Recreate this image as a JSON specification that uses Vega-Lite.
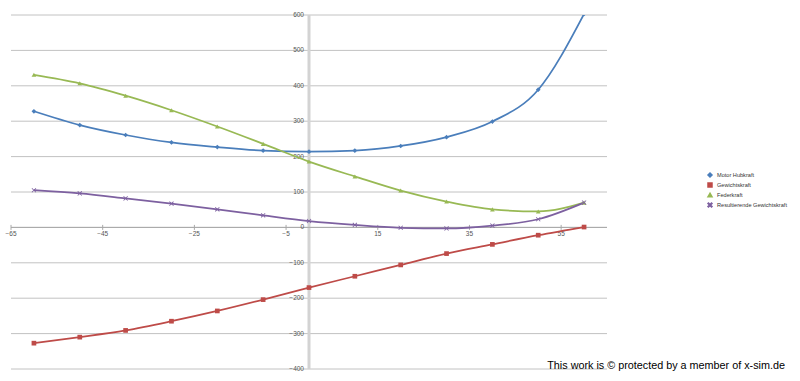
{
  "$schema": "https://vega.github.io/schema/vega-lite/v6.json",
  "width": 596,
  "height": 354,
  "autosize": {"type": "none"},
  "padding": {"left": 11, "top": 15, "right": 193, "bottom": 12},
  "background": "white",
  "config": {"view": {"stroke": null}, "font": "Liberation Sans"},
  "title": {
    "text": "This work is © protected by a member of x-sim.de",
    "orient": "bottom",
    "anchor": "end",
    "frame": "group",
    "fontSize": 10.8,
    "fontWeight": "normal",
    "color": "black",
    "dx": 178,
    "dy": -13,
    "offset": 0
  },
  "datasets": {
    "series": [
      {"x": -60, "series": "Motor Hubkraft", "value": 328},
      {"x": -50, "series": "Motor Hubkraft", "value": 289},
      {"x": -40, "series": "Motor Hubkraft", "value": 261},
      {"x": -30, "series": "Motor Hubkraft", "value": 240},
      {"x": -20, "series": "Motor Hubkraft", "value": 227},
      {"x": -10, "series": "Motor Hubkraft", "value": 217},
      {"x": 0, "series": "Motor Hubkraft", "value": 214},
      {"x": 10, "series": "Motor Hubkraft", "value": 217},
      {"x": 20, "series": "Motor Hubkraft", "value": 230},
      {"x": 30, "series": "Motor Hubkraft", "value": 255},
      {"x": 40, "series": "Motor Hubkraft", "value": 299},
      {"x": 50, "series": "Motor Hubkraft", "value": 389},
      {"x": 60, "series": "Motor Hubkraft", "value": 603},
      {"x": -60, "series": "Gewichtskraft", "value": -327},
      {"x": -50, "series": "Gewichtskraft", "value": -310},
      {"x": -40, "series": "Gewichtskraft", "value": -291},
      {"x": -30, "series": "Gewichtskraft", "value": -265},
      {"x": -20, "series": "Gewichtskraft", "value": -236},
      {"x": -10, "series": "Gewichtskraft", "value": -204},
      {"x": 0, "series": "Gewichtskraft", "value": -170},
      {"x": 10, "series": "Gewichtskraft", "value": -138},
      {"x": 20, "series": "Gewichtskraft", "value": -106},
      {"x": 30, "series": "Gewichtskraft", "value": -74},
      {"x": 40, "series": "Gewichtskraft", "value": -48},
      {"x": 50, "series": "Gewichtskraft", "value": -22},
      {"x": 60, "series": "Gewichtskraft", "value": 1},
      {"x": -60, "series": "Federkraft", "value": 431},
      {"x": -50, "series": "Federkraft", "value": 407},
      {"x": -40, "series": "Federkraft", "value": 372},
      {"x": -30, "series": "Federkraft", "value": 331},
      {"x": -20, "series": "Federkraft", "value": 285},
      {"x": -10, "series": "Federkraft", "value": 236},
      {"x": 0, "series": "Federkraft", "value": 186},
      {"x": 10, "series": "Federkraft", "value": 144},
      {"x": 20, "series": "Federkraft", "value": 104},
      {"x": 30, "series": "Federkraft", "value": 73},
      {"x": 40, "series": "Federkraft", "value": 51},
      {"x": 50, "series": "Federkraft", "value": 45},
      {"x": 60, "series": "Federkraft", "value": 70},
      {"x": -60, "series": "Resultierende Gewichtskraft", "value": 105},
      {"x": -50, "series": "Resultierende Gewichtskraft", "value": 96},
      {"x": -40, "series": "Resultierende Gewichtskraft", "value": 82},
      {"x": -30, "series": "Resultierende Gewichtskraft", "value": 67},
      {"x": -20, "series": "Resultierende Gewichtskraft", "value": 51},
      {"x": -10, "series": "Resultierende Gewichtskraft", "value": 34},
      {"x": 0, "series": "Resultierende Gewichtskraft", "value": 18},
      {"x": 10, "series": "Resultierende Gewichtskraft", "value": 7},
      {"x": 20, "series": "Resultierende Gewichtskraft", "value": -1},
      {"x": 30, "series": "Resultierende Gewichtskraft", "value": -3},
      {"x": 40, "series": "Resultierende Gewichtskraft", "value": 5},
      {"x": 50, "series": "Resultierende Gewichtskraft", "value": 23},
      {"x": 60, "series": "Resultierende Gewichtskraft", "value": 70}
    ],
    "yticks": [
      {"v": -400}, {"v": -300}, {"v": -200}, {"v": -100}, {"v": 0},
      {"v": 100}, {"v": 200}, {"v": 300}, {"v": 400}, {"v": 500}, {"v": 600}
    ],
    "xticks": [
      {"t": -65}, {"t": -45}, {"t": -25}, {"t": -5}, {"t": 15}, {"t": 35}, {"t": 55}
    ]
  },
  "layer": [
    {
      "data": {"name": "yticks"},
      "mark": {"type": "rule", "color": "#c2c2c2", "strokeWidth": 1},
      "encoding": {
        "y": {"field": "v", "type": "quantitative", "scale": {"domain": [-400, 600], "nice": false, "zero": false}, "axis": null}
      }
    },
    {
      "data": {"values": [{"a": 0}]},
      "mark": {"type": "rule", "color": "#d3d3d3", "strokeWidth": 3},
      "encoding": {
        "x": {"datum": 0, "type": "quantitative", "scale": {"domain": [-65, 65], "nice": false, "zero": false}, "axis": null}
      }
    },
    {
      "data": {"values": [{"a": 0}]},
      "mark": {"type": "rule", "color": "#a8a8a8", "strokeWidth": 1},
      "encoding": {
        "y": {"datum": 0, "type": "quantitative", "scale": {"domain": [-400, 600], "nice": false, "zero": false}, "axis": null}
      }
    },
    {
      "data": {"name": "xticks"},
      "mark": {"type": "point", "shape": "stroke", "angle": 90, "size": 25, "color": "#a8a8a8", "strokeWidth": 1, "opacity": 1},
      "encoding": {
        "x": {"field": "t", "type": "quantitative", "scale": {"domain": [-65, 65], "nice": false, "zero": false}, "axis": null},
        "y": {"datum": 0, "type": "quantitative", "scale": {"domain": [-400, 600], "nice": false, "zero": false}, "axis": null}
      }
    },
    {
      "data": {"name": "xticks"},
      "mark": {"type": "text", "fontSize": 6.5, "color": "#555555", "baseline": "top", "align": "center", "dy": 4},
      "encoding": {
        "x": {"field": "t", "type": "quantitative", "scale": {"domain": [-65, 65], "nice": false, "zero": false}, "axis": null},
        "y": {"datum": 0, "type": "quantitative", "scale": {"domain": [-400, 600], "nice": false, "zero": false}, "axis": null},
        "text": {"field": "t", "type": "quantitative"}
      }
    },
    {
      "data": {"name": "yticks"},
      "mark": {"type": "text", "fontSize": 6.5, "color": "#555555", "baseline": "middle", "align": "right", "dx": -5},
      "encoding": {
        "x": {"datum": 0, "type": "quantitative", "scale": {"domain": [-65, 65], "nice": false, "zero": false}, "axis": null},
        "y": {"field": "v", "type": "quantitative", "scale": {"domain": [-400, 600], "nice": false, "zero": false}, "axis": null},
        "text": {"field": "v", "type": "quantitative"}
      }
    },
    {
      "data": {"name": "series"},
      "mark": {"type": "line", "interpolate": "monotone", "strokeWidth": 1.75, "clip": true},
      "encoding": {
        "x": {"field": "x", "type": "quantitative", "scale": {"domain": [-65, 65], "nice": false, "zero": false}, "axis": null},
        "y": {"field": "value", "type": "quantitative", "scale": {"domain": [-400, 600], "nice": false, "zero": false}, "axis": null},
        "color": {
          "field": "series", "type": "nominal",
          "scale": {"domain": ["Motor Hubkraft", "Gewichtskraft", "Federkraft", "Resultierende Gewichtskraft"], "range": ["#4A7EBB", "#BE4B48", "#98B954", "#7D60A0"]},
          "legend": {
            "title": null, "orient": "none", "legendX": 696, "legendY": 157,
            "labelFontSize": 5.6, "labelColor": "#333333", "symbolSize": 16, "rowPadding": 0, "labelOffset": 4
          }
        }
      }
    },
    {
      "data": {"name": "series"},
      "mark": {"type": "point", "filled": true, "opacity": 1, "clip": true},
      "encoding": {
        "x": {"field": "x", "type": "quantitative", "scale": {"domain": [-65, 65], "nice": false, "zero": false}, "axis": null},
        "y": {"field": "value", "type": "quantitative", "scale": {"domain": [-400, 600], "nice": false, "zero": false}, "axis": null},
        "color": {
          "field": "series", "type": "nominal",
          "scale": {"domain": ["Motor Hubkraft", "Gewichtskraft", "Federkraft", "Resultierende Gewichtskraft"], "range": ["#4A7EBB", "#BE4B48", "#98B954", "#7D60A0"]},
          "legend": {
            "title": null, "orient": "none", "legendX": 696, "legendY": 157,
            "labelFontSize": 5.6, "labelColor": "#333333", "symbolSize": 16, "rowPadding": 0, "labelOffset": 4
          }
        },
        "shape": {
          "field": "series", "type": "nominal",
          "scale": {"domain": ["Motor Hubkraft", "Gewichtskraft", "Federkraft", "Resultierende Gewichtskraft"], "range": ["diamond", "square", "triangle-up", "M-1,-0.75L-0.75,-1L0,-0.25L0.75,-1L1,-0.75L0.25,0L1,0.75L0.75,1L0,0.25L-0.75,1L-1,0.75L-0.25,0Z"]},
          "legend": {
            "title": null, "orient": "none", "legendX": 696, "legendY": 157,
            "labelFontSize": 5.6, "labelColor": "#333333", "symbolSize": 16, "rowPadding": 0, "labelOffset": 4
          }
        },
        "size": {"value": 22}
      }
    }
  ]
}
